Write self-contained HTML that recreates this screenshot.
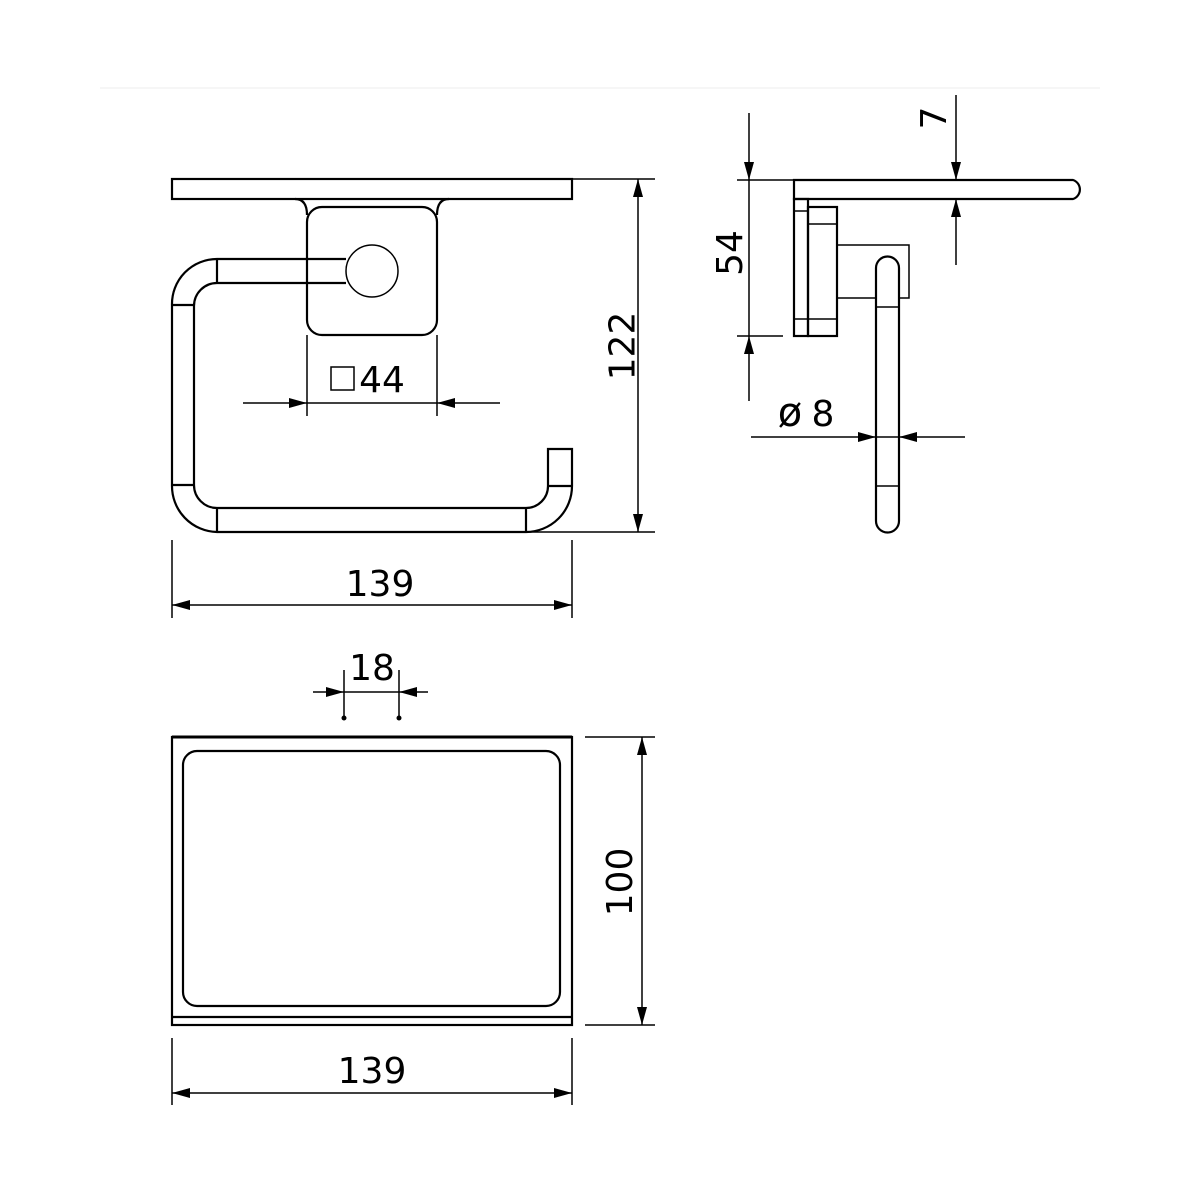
<!DOCTYPE html>
<html><head><meta charset="utf-8"><style>html,body{margin:0;padding:0;background:#fff}svg{display:block}text{font-family:"DejaVu Sans","Liberation Sans",sans-serif;fill:#000}</style></head>
<body>
<svg width="1200" height="1200" viewBox="0 0 1200 1200" xmlns="http://www.w3.org/2000/svg">
<defs>
<marker id="a" viewBox="0 0 18 10" refX="18" refY="5" markerWidth="18" markerHeight="10" markerUnits="userSpaceOnUse" orient="auto-start-reverse"><path d="M0,0 L18,5 L0,10 z" fill="#000"/></marker>
</defs>
<line x1="100" y1="88" x2="1100" y2="88" stroke="#eee" stroke-width="1"/>
<g fill="none" stroke="#000" stroke-width="2.2">
<rect x="172" y="179" width="400" height="20"/>
<line x1="572" y1="179" x2="655" y2="179" stroke-width="1.5"/>
<path d="M295,199 Q307,199 307,215 M449,199 Q437,199 437,215"/>
<rect x="307" y="207" width="130" height="128" rx="15"/>
<circle cx="372" cy="271" r="26" stroke-width="1.5"/>
<path d="M346,259 L217,259 A45,45 0 0 0 172,305 L172,485 A46,46 0 0 0 217,532 L526,532 A46,46 0 0 0 572,486 L572,449 L548,449 L548,486 A22,22 0 0 1 526,508 L217,508 A23,23 0 0 1 194,485 L194,306 A23,23 0 0 1 217,283 L346,283"/>
<path d="M217,259 V283 M172,305 H194 M172,485 H194 M217,508 V532 M526,508 V532 M548,486 H572"/>
<line x1="526" y1="532" x2="655" y2="532" stroke-width="1.5"/>
<g stroke-width="1.5">
<line x1="638" y1="179" x2="638" y2="532" marker-start="url(#a)" marker-end="url(#a)"/>
<line x1="307" y1="335" x2="307" y2="416"/><line x1="437" y1="335" x2="437" y2="416"/>
<line x1="243" y1="403" x2="307" y2="403" marker-end="url(#a)"/>
<line x1="500" y1="403" x2="437" y2="403" marker-end="url(#a)"/>
<line x1="307" y1="403" x2="437" y2="403"/>
<line x1="172" y1="540" x2="172" y2="618"/><line x1="572" y1="540" x2="572" y2="618"/>
<line x1="172" y1="605" x2="572" y2="605" marker-start="url(#a)" marker-end="url(#a)"/>
</g>
<rect x="331" y="367" width="23" height="23" stroke-width="1.5"/>
<path d="M794,199 L794,180 L1073,180 A10,10 0 0 1 1073,199 Z"/>
<line x1="737" y1="180" x2="794" y2="180" stroke-width="1.5"/>
<rect x="794" y="199" width="14" height="137"/>
<rect x="808" y="207" width="29" height="129"/>
<path d="M808,224 H837 M808,319 H837 M794,211 H808 M794,319 H808" stroke-width="1.5"/>
<rect x="837" y="245" width="72" height="53" stroke-width="1.5"/>
<path d="M876,521 L876,268 A11.5,11.5 0 0 1 899,268 L899,521 A11.5,11.5 0 0 1 876,521 Z" fill="#fff"/>
<path d="M876,307 H899 M876,486 H899" stroke-width="1.5"/>
<g stroke-width="1.5">
<line x1="749" y1="113" x2="749" y2="180" marker-end="url(#a)"/>
<line x1="749" y1="401" x2="749" y2="336" marker-end="url(#a)"/>
<line x1="749" y1="180" x2="749" y2="336"/>
<line x1="737" y1="336" x2="783" y2="336"/>
<line x1="956" y1="95" x2="956" y2="180" marker-end="url(#a)"/>
<line x1="956" y1="265" x2="956" y2="199" marker-end="url(#a)"/>
<line x1="751" y1="437" x2="876" y2="437" marker-end="url(#a)"/>
<line x1="965" y1="437" x2="899" y2="437" marker-end="url(#a)"/>
<line x1="876" y1="437" x2="899" y2="437"/>
</g>
<rect x="172" y="737" width="400" height="288"/>
<line x1="172" y1="737" x2="572" y2="737" stroke-width="3"/>
<line x1="172" y1="1017" x2="572" y2="1017"/>
<rect x="183" y="751" width="377" height="255" rx="14"/>
<g stroke-width="1.5">
<line x1="585" y1="737" x2="655" y2="737"/><line x1="585" y1="1025" x2="655" y2="1025"/>
<line x1="642" y1="737" x2="642" y2="1025" marker-start="url(#a)" marker-end="url(#a)"/>
<line x1="344" y1="670" x2="344" y2="718"/><line x1="399" y1="670" x2="399" y2="718"/>
<line x1="313" y1="692" x2="344" y2="692" marker-end="url(#a)"/>
<line x1="428" y1="692" x2="399" y2="692" marker-end="url(#a)"/>
<line x1="344" y1="692" x2="399" y2="692"/>
<line x1="172" y1="1038" x2="172" y2="1105"/><line x1="572" y1="1038" x2="572" y2="1105"/>
<line x1="172" y1="1093" x2="572" y2="1093" marker-start="url(#a)" marker-end="url(#a)"/>
</g>
</g>
<circle cx="344" cy="718" r="2.5"/><circle cx="399" cy="718" r="2.5"/>
<g font-size="36">
<text x="635" y="346" text-anchor="middle" transform="rotate(-90 635 346)" dominant-baseline="central" dy="-12">122</text>
<text x="382" y="392" text-anchor="middle">44</text>
<text x="380" y="596" text-anchor="middle">139</text>
<text x="742" y="253" text-anchor="middle" transform="rotate(-90 742 253)">54</text>
<text x="946" y="118" text-anchor="middle" transform="rotate(-90 946 118)">7</text>
<text x="790" y="426" text-anchor="middle" font-size="40">ø</text>
<text x="823" y="426" text-anchor="middle">8</text>
<text x="372" y="680" text-anchor="middle">18</text>
<text x="632" y="882" text-anchor="middle" transform="rotate(-90 632 882)">100</text>
<text x="372" y="1083" text-anchor="middle">139</text>
</g>
</svg>
</body></html>
